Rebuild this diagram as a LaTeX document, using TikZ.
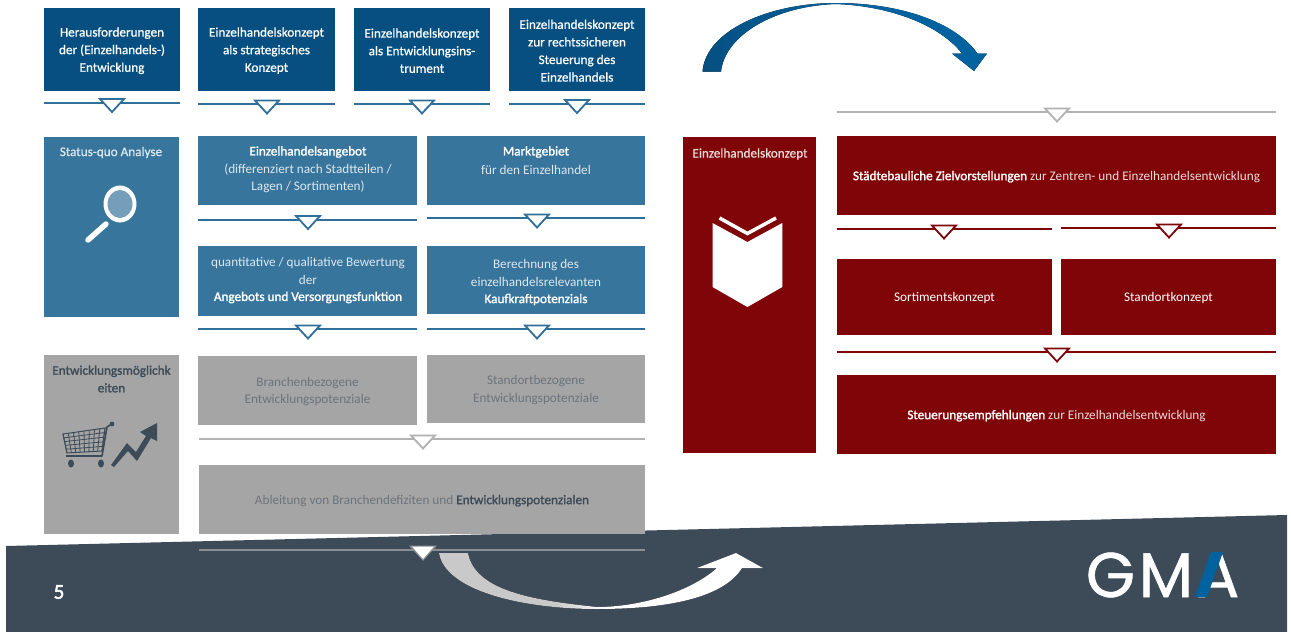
\documentclass[tikz,border=0pt]{standalone}
\usepackage{fontspec}
\setmainfont[BoldFont=Carlito,BoldFeatures={FakeBold=1.6}]{Carlito}
\newfontfamily\medf[FakeBold=0.7]{Carlito}
\newfontfamily\pagef[FakeBold=2.5]{Carlito}
\newfontfamily\logofont[LetterSpace=6,FakeBold=1]{Poppins}
\definecolor{navy}{HTML}{064F80}
\definecolor{teal}{HTML}{38759C}
\definecolor{gbox}{HTML}{A5A5A5}
\definecolor{wine}{HTML}{7F0508}
\definecolor{foot}{HTML}{3D4B59}
\definecolor{lnblue}{HTML}{2F6F9A}
\definecolor{lngray}{HTML}{B2B2B2}
\definecolor{lnfoot}{HTML}{8B8F92}
\definecolor{softw}{HTML}{DCE7EE}
\definecolor{softr}{HTML}{EBD9D9}
\definecolor{gtxt}{HTML}{6B747C}
\definecolor{arrA}{HTML}{064F80}
\definecolor{arrB}{HTML}{00629F}
\definecolor{arrG}{HTML}{C9C9C9}
\definecolor{logob}{HTML}{00629F}
\pgfdeclarehorizontalshading{graywhite}{100bp}{color(0bp)=(arrG); color(43bp)=(arrG); color(51bp)=(white); color(100bp)=(white)}
\newcommand{\bx}[7]{% style,name,x1,y1,x2,y2,text
  \pgfmathsetmacro{\bxw}{#5-#3}\pgfmathsetmacro{\bxh}{#6-#4}
  \node[#1,minimum width=\bxw pt,minimum height=\bxh pt,anchor=north west] (#2) at (#3,#4) {};
  \if\relax\detokenize{#7}\relax\else
  \node[#1,fill=none] (#2-t) at ($(#2.center)+(0,1.2)$) {#7};\fi}
\newcommand{\lb}[4]{\node[lbl,#1] (#2) at (#3) {#4};}
\newcommand{\dv}[6]{% name,x1,x2,y,cx,colour
  \coordinate (#1-l) at (#2,#4);\coordinate (#1-r) at (#3,#4);
  \draw[divline,draw=#6] (#1-l) -- (#1-r);
  \draw[divtri,draw=#6] ($(#5,#4)+(-12,-3.5)$) -- ($(#5,#4)+(12,-3.5)$) -- ($(#5,#4)+(0,9.5)$) -- cycle;}
\usetikzlibrary{calc}
\begin{document}
\begin{tikzpicture}[x=1pt,y=-1pt,
  boxn/.style={rectangle,inner sep=0pt,outer sep=0pt,fill=navy,text=white,align=center,font=\medf\fontsize{13.2}{17.6}\selectfont},
  boxt/.style={boxn,fill=teal},
  boxg/.style={boxn,fill=gbox},
  boxr/.style={boxn,fill=wine},
  plain/.style={font=\fontsize{13.2}{17.6}\selectfont},
  lbl/.style={inner sep=0pt,outer sep=0pt,align=center,font=\fontsize{13.2}{17.6}\selectfont},
  blbl/.style={lbl,text=white,font=\bfseries\fontsize{13.2}{17.6}\selectfont},
  divline/.style={line width=2pt},
  divtri/.style={line width=1.8pt,fill=white,line join=miter}]
\useasboundingbox (0,0) rectangle (1291,632);
\fill[white] (0,0) rectangle (1291,632);
% footer
\fill[foot] (6,546) -- (1287,515) -- (1287,632) -- (6,632) -- cycle;
\node[lbl,text=white,font=\pagef\fontsize{21}{22}\selectfont] (pagenum) at (59,592) {5};
% logo
\node[lbl,text=white,anchor=base west,font=\logofont\fontsize{63}{63}\selectfont] (logo) at (1086,597) {GMA};
\fill[logob] (1195,597) -- (1211,552) -- (1223,552) -- (1207,597) -- cycle;
% top row
\bx{boxn}{t1}{44}{8}{180}{91}{Herausforderungen\\der (Einzelhandels-)\\Entwicklung}
\bx{boxn}{t2}{198}{8}{335}{91}{Einzelhandelskonzept\\als strategisches\\Konzept}
\bx{boxn}{t3}{354}{8}{490}{91}{Einzelhandelskonzept\\als Entwicklungsins-\\trument}
\bx{boxn}{t4}{509}{8}{645}{91}{Einzelhandelskonzept\\zur rechtssicheren\\Steuerung des\\Einzelhandels}
\dv{d1}{44}{180}{102.5}{112}{lnblue}
\dv{d2}{198}{335}{104}{267}{lnblue}
\dv{d3}{354}{490}{104}{422}{lnblue}
\dv{d4}{509}{645}{103.5}{577}{lnblue}
% status quo column
\bx{boxt}{sq}{44}{137}{179}{317}{}
\lb{text=softw,font=\medf\fontsize{13.2}{17.6}\selectfont}{sqt}{111,152.5}{Status-quo Analyse}
\fill[white] (120,204) ellipse [x radius=16.5,y radius=18.5];
\fill[teal!70!white] (120,204) ellipse [x radius=12.5,y radius=14];
\draw[white,line width=5.5pt,line cap=round] (106,224) -- (88,240);
% blue boxes
\bx{boxt}{a1}{198}{136}{417}{205}{}
\lb{blbl}{a1a}{308,152}{Einzelhandelsangebot}
\lb{text=softw}{a1b}{308,178.5}{(differenziert nach Stadtteilen /\\Lagen / Sortimenten)}
\bx{boxt}{a2}{427}{136}{645}{205}{}
\lb{blbl}{a2a}{536,152}{Marktgebiet}
\lb{text=softw}{a2b}{536,169.5}{für den Einzelhandel}
\dv{d5}{198}{417}{219.5}{308}{lnblue}
\dv{d6}{427}{645}{218}{537}{lnblue}
\bx{boxt}{b1}{198}{246}{417}{316}{}
\lb{text=softw}{b1a}{308,271}{quantitative / qualitative Bewertung\\der}
\lb{blbl}{b1b}{308,297.5}{Angebots und Versorgungsfunktion}
\bx{boxt}{b2}{427}{246}{645}{314}{}
\lb{text=softw}{b2a}{536,273}{Berechnung des\\einzelhandelsrelevanten}
\lb{blbl}{b2b}{536,299.5}{Kaufkraftpotenzials}
\dv{d7}{198}{417}{329}{308}{lnblue}
\dv{d8}{427}{645}{329}{537}{lnblue}
% gray column
\bx{boxg}{gc}{44}{355}{179}{534}{}
\lb{blbl,text=foot}{gct}{111.5,379}{Entwicklungsmöglichk\\eiten}
% cart
\draw[foot,line width=1.6pt,line join=round] (112,424) -- (107,427) -- (102,456) -- (66,456);
\draw[foot,line width=1pt] (63,434) -- (105,428) -- (102,451) -- (67,453) -- cycle;
\foreach \t in {0,.125,...,1}{\draw[foot,line width=.8pt] ($(63,434)!\t!(105,428)$) -- ($(67,453)!\t!(102,451)$);}
\foreach \t in {.2,.4,.6,.8}{\draw[foot,line width=.8pt] ($(63,434)!\t!(67,453)$) -- ($(105,428)!\t!(102,451)$);}
\fill[foot] (71,463.5) ellipse [x radius=3,y radius=4];
\fill[foot] (101,463.5) ellipse [x radius=3,y radius=4];
\fill[foot] (112,424) circle (2.4);
% rising arrow
\fill[foot] (111,465) -- (127,443) -- (136,452) -- (146,436) -- (140,432) -- (157,423) -- (157,441) -- (151,438) -- (137,461) -- (128,451) -- (114,467) -- cycle;
% gray boxes
\bx{boxg,text=gtxt,plain}{c1}{198}{356}{417}{425}{Branchenbezogene\\Entwicklungspotenziale}
\bx{boxg,text=gtxt,plain}{c2}{427}{355}{645}{423}{Standortbezogene\\Entwicklungspotenziale}
\dv{d9}{199}{645}{439}{423}{lngray}
\bx{boxg,text=gtxt,plain}{e1}{199}{465}{645}{534}{Ableitung von Branchendefiziten und \textcolor{foot}{\bfseries Entwicklungspotenzialen}}
% footer divider
\dv{d10}{199}{645}{550}{423}{lnfoot}
\fill[white] (412,546.5) -- (434,546.5) -- (423,559) -- cycle;
% white-grey curved arrow
\fill[shading=graywhite] (439,553) .. controls (445,590) and (520,609) .. (597,609)
  .. controls (660,609) and (722,600) .. (742,568) -- (763,568) -- (736,553) -- (697,568) -- (717,568)
  .. controls (690,592) and (640,607) .. (597,607)
  .. controls (530,600) and (475,590) .. (468,553) -- cycle;
% blue curved arrow
\fill[left color=arrA,right color=arrB,middle color=arrB] (702.5,71.5) .. controls (706,30) and (770,3) .. (836,3)
  .. controls (900,3) and (955,22) .. (977.5,53.5) -- (987,53.5) -- (974,71) -- (952,53.5) -- (962,53.5)
  .. controls (940,25) and (890,6) .. (836,4)
  .. controls (775,6) and (725,35) .. (721,71.5) -- cycle;
% right part
\dv{d11}{837}{1276}{112}{1057}{lngray}
\bx{boxr}{k}{683}{137}{816}{453}{}
\lb{text=softr,font=\medf\fontsize{13.2}{17.6}\selectfont}{kt}{750,154}{Einzelhandelskonzept}
\fill[white,line join=round] (712.5,223) -- (747.4,242) -- (782.3,223) -- (782.3,287) -- (747.4,307) -- (712.5,287) -- cycle;
\draw[white,line width=3.5pt] (719.5,218) -- (747.4,233.5) -- (776,218);
\bx{boxr,text=softr,plain}{z}{837}{136}{1276}{215}{\textcolor{white}{\bfseries Städtebauliche Zielvorstellungen} zur Zentren- und Einzelhandelsentwicklung}
\dv{d12}{837}{1052}{229}{944}{wine}
\dv{d13}{1061}{1276}{228}{1169}{wine}
\bx{boxr,plain}{so}{837}{259}{1052}{335}{Sortimentskonzept}
\bx{boxr,plain}{st}{1061}{259}{1276}{335}{Standortkonzept}
\dv{d14}{837}{1276}{352}{1057}{wine}
\bx{boxr,text=softr,plain}{se}{837}{375}{1276}{454}{\textcolor{white}{\bfseries Steuerungsempfehlungen} zur Einzelhandelsentwicklung}
\end{tikzpicture}
\end{document}
